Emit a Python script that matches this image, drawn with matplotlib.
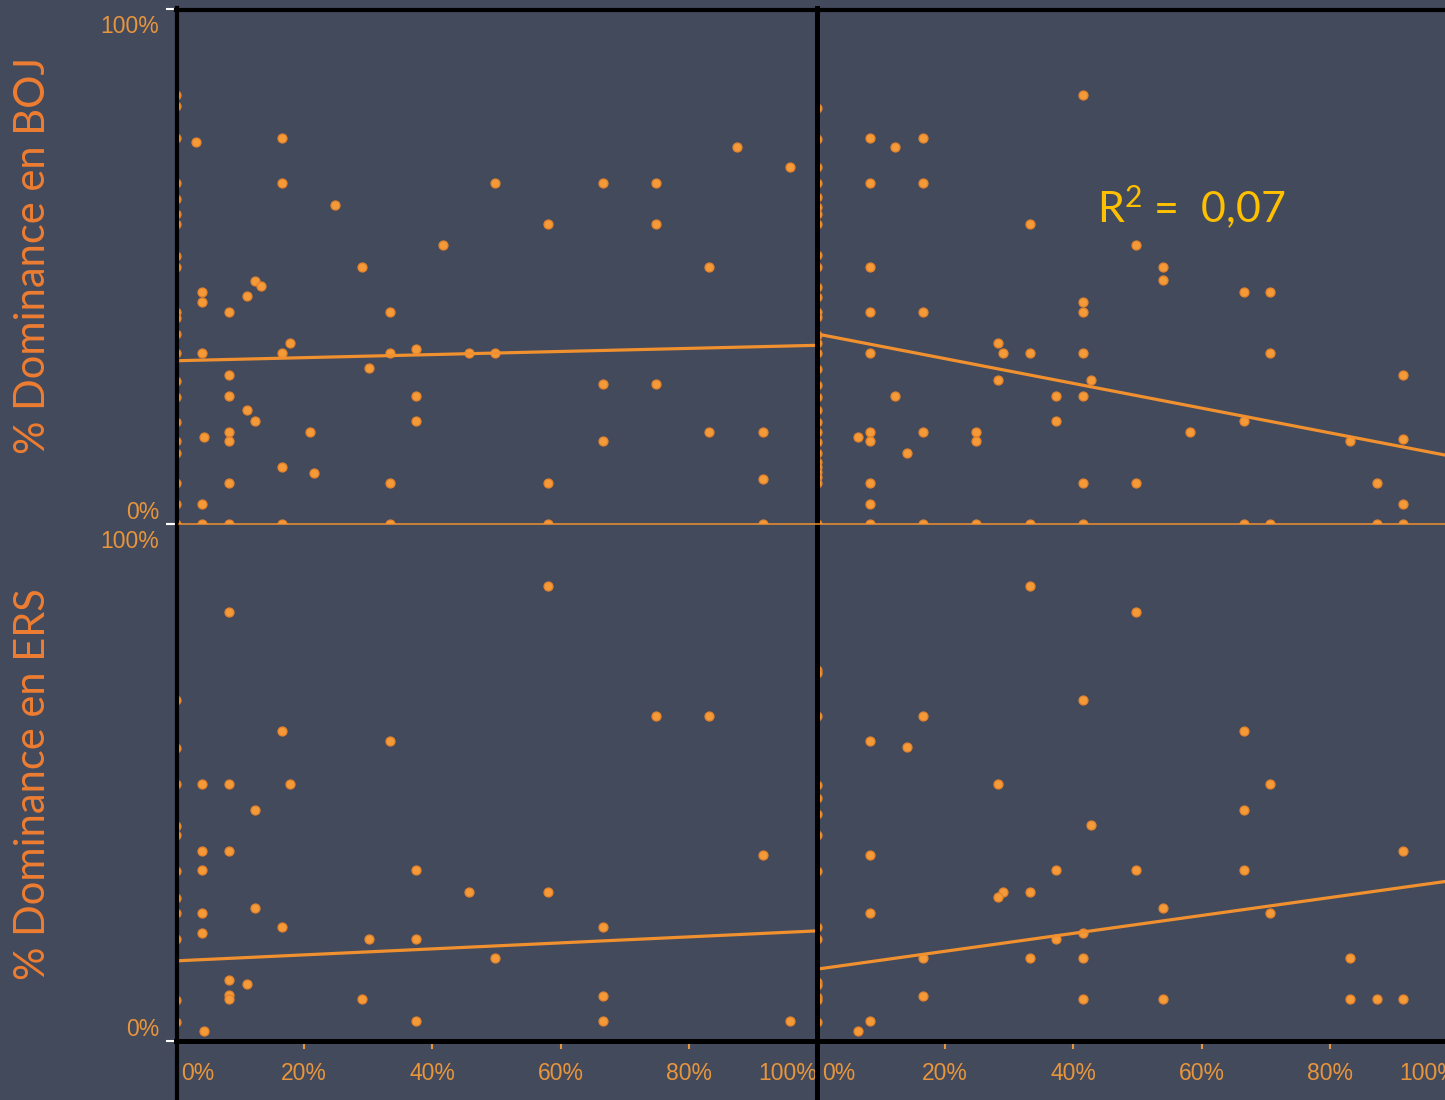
"""
Scatter grid: % dominance in BOJ / ERS against two other shares,
with a fitted line in each panel (dark slide style).
"""
import numpy as np
import matplotlib
matplotlib.use("Agg")
import matplotlib.pyplot as plt
from matplotlib.lines import Line2D
from matplotlib.transforms import ScaledTranslation

# ---- data (x, y as fractions) ----
# top-left panel: BOJ vs left variable
boj_left_pts = [
    (0.031, 0.742), (0.165, 0.750), (0.165, 0.662), (0.248, 0.619), (0.290, 0.499),
    (0.417, 0.542), (0.498, 0.662), (0.580, 0.583), (0.666, 0.662), (0.749, 0.662),
    (0.749, 0.583), (0.832, 0.499), (0.875, 0.732), (0.958, 0.693),
    (0.041, 0.450), (0.041, 0.431), (0.083, 0.412), (0.111, 0.443), (0.123, 0.472),
    (0.133, 0.462), (0.334, 0.412), (0.178, 0.351), (0.165, 0.332), (0.041, 0.332),
    (0.301, 0.303), (0.334, 0.332), (0.374, 0.340), (0.457, 0.332), (0.498, 0.332),
    (0.083, 0.289), (0.083, 0.249), (0.111, 0.221), (0.123, 0.200), (0.044, 0.169),
    (0.083, 0.179), (0.083, 0.161), (0.209, 0.179), (0.165, 0.111), (0.215, 0.099),
    (0.041, 0.039), (0.083, 0.080), (0.334, 0.080), (0.374, 0.249), (0.374, 0.200),
    (0.580, 0.080), (0.666, 0.272), (0.749, 0.272), (0.666, 0.161), (0.832, 0.179),
    (0.916, 0.179), (0.916, 0.087),
    (0.041, 0.0), (0.083, 0.0), (0.165, 0.0), (0.334, 0.0), (0.580, 0.0), (0.916, 0.0),
]
boj_left_zero_y = [0.833, 0.812, 0.750, 0.662, 0.631, 0.602, 0.583, 0.520, 0.499, 0.412,
                   0.400, 0.369, 0.332, 0.278, 0.247, 0.198, 0.161, 0.138, 0.080, 0.039, 0.0]

# top-right panel: BOJ vs right variable
boj_right_pts = [
    (0.083, 0.750), (0.122, 0.732), (0.165, 0.750), (0.083, 0.662), (0.165, 0.662),
    (0.415, 0.833), (0.332, 0.583), (0.498, 0.542), (0.540, 0.499), (0.540, 0.474),
    (0.083, 0.499), (0.415, 0.431), (0.415, 0.412), (0.083, 0.412), (0.165, 0.412),
    (0.666, 0.450), (0.707, 0.450), (0.282, 0.351), (0.290, 0.332), (0.332, 0.332),
    (0.415, 0.332), (0.707, 0.332), (0.083, 0.332), (0.282, 0.280), (0.427, 0.280),
    (0.373, 0.249), (0.415, 0.249), (0.122, 0.249), (0.373, 0.200), (0.666, 0.200),
    (0.582, 0.179), (0.083, 0.179), (0.083, 0.161), (0.064, 0.169), (0.165, 0.179),
    (0.248, 0.179), (0.248, 0.161), (0.140, 0.138), (0.832, 0.161), (0.914, 0.165),
    (0.914, 0.289), (0.083, 0.080), (0.083, 0.039), (0.415, 0.080), (0.498, 0.080),
    (0.874, 0.080), (0.914, 0.039),
    (0.083, 0.0), (0.165, 0.0), (0.248, 0.0), (0.332, 0.0), (0.415, 0.0), (0.666, 0.0),
    (0.707, 0.0), (0.874, 0.0), (0.914, 0.0),
]
boj_right_zero_y = [0.808, 0.748, 0.693, 0.662, 0.635, 0.616, 0.602, 0.583, 0.522, 0.499,
                    0.460, 0.441, 0.412, 0.402, 0.367, 0.351, 0.332, 0.301, 0.270, 0.247,
                    0.221, 0.198, 0.179, 0.159, 0.138, 0.120, 0.111, 0.101, 0.091, 0.080, 0.0]

# bottom-left panel: ERS vs left variable
ers_left_pts = [
    (0.083, 0.830), (0.580, 0.880), (0.165, 0.600), (0.334, 0.580), (0.749, 0.629),
    (0.832, 0.629), (0.041, 0.497), (0.083, 0.497), (0.178, 0.497), (0.123, 0.447),
    (0.041, 0.368), (0.083, 0.368), (0.041, 0.331), (0.374, 0.331), (0.916, 0.360),
    (0.457, 0.288), (0.580, 0.288), (0.123, 0.257), (0.041, 0.248), (0.041, 0.209),
    (0.165, 0.220), (0.301, 0.197), (0.374, 0.197), (0.666, 0.220), (0.498, 0.161),
    (0.083, 0.118), (0.111, 0.110), (0.083, 0.089), (0.083, 0.081), (0.290, 0.081),
    (0.666, 0.087), (0.374, 0.039), (0.666, 0.039), (0.958, 0.039), (0.044, 0.019),
]
ers_left_zero_y = [0.660, 0.567, 0.497, 0.416, 0.398, 0.329, 0.277, 0.248, 0.197, 0.079, 0.037]

# bottom-right panel: ERS vs right variable
ers_right_pts = [
    (0.332, 0.880), (0.498, 0.830), (0.415, 0.660), (0.165, 0.629), (0.083, 0.580),
    (0.140, 0.569), (0.666, 0.600), (0.282, 0.497), (0.707, 0.497), (0.666, 0.447),
    (0.427, 0.418), (0.083, 0.360), (0.914, 0.368), (0.373, 0.331), (0.498, 0.331),
    (0.666, 0.331), (0.290, 0.288), (0.332, 0.288), (0.282, 0.279), (0.540, 0.257),
    (0.083, 0.248), (0.707, 0.248), (0.373, 0.197), (0.415, 0.209), (0.165, 0.161),
    (0.332, 0.161), (0.415, 0.161), (0.832, 0.161), (0.165, 0.087), (0.415, 0.081),
    (0.540, 0.081), (0.832, 0.081), (0.874, 0.081), (0.914, 0.081), (0.083, 0.039),
    (0.064, 0.019),
]
ers_right_zero_y = [0.718, 0.712, 0.629, 0.495, 0.470, 0.439, 0.398, 0.329, 0.220, 0.197,
                    0.114, 0.108, 0.085, 0.079, 0.037]

# fitted lines (intercept, slope) per panel
fit_intercepts = [0.317, 0.369, 0.155, 0.139]
fit_slopes = [0.030, -0.240, 0.058, 0.173]

x_tick_values = [0, 0.2, 0.4, 0.6, 0.8, 1.0]
x_tick_labels = ["0%", "20%", "40%", "60%", "80%", "100%"]
y_tick_labels = ["0%", "100%"]
row_labels = ["% Dominance en BOJ", "% Dominance en ERS"]
r2_text = r"R$^{2}$ =  0,07"

# ---- style ----
BG = "#434a5c"
DOT = "#f59a38"
DOT_EDGE = "#e4822a"
LINE = "#f0902f"
TICK_TXT = "#e8953c"
LABEL_TXT = "#ed7d31"
W, H = 1445, 1100

plt.rcParams["mathtext.fontset"] = "custom"
plt.rcParams["mathtext.rm"] = "Lato"
plt.rcParams["mathtext.it"] = "Lato"


def box(x0, y0, x1, y1):
    # pixel box -> figure fraction rect
    return [x0 / W, 1 - y1 / H, (x1 - x0) / W, (y1 - y0) / H]


fig = plt.figure(figsize=(W / 100, H / 100), dpi=100, facecolor=BG)

panels = [
    (box(176, 9, 817, 524), boj_left_pts, boj_left_zero_y, "left", "top"),
    (box(817, 9, 1458, 524), boj_right_pts, boj_right_zero_y, "right", "top"),
    (box(176, 524, 817, 1041), ers_left_pts, ers_left_zero_y, "left", "bottom"),
    (box(817, 524, 1458, 1041), ers_right_pts, ers_right_zero_y, "right", "bottom"),
]

for i, (rect, pts, zero_y, side, row) in enumerate(panels):
    ax = fig.add_axes(rect)
    ax.set_facecolor(BG)
    for s in ax.spines.values():
        s.set_visible(False)
    ax.set_xlim(0, 1)
    ax.set_ylim(0, 1)

    xs, ys = np.array(pts).T
    ax.scatter(xs, ys, s=42, color=DOT, edgecolors=DOT_EDGE, linewidths=0.9, zorder=2)
    ax.scatter(np.zeros(len(zero_y)), zero_y, s=42, color=DOT, edgecolors=DOT_EDGE,
               linewidths=0.9, zorder=2)

    fx = np.array([0, 1.05])
    ax.plot(fx, fit_intercepts[i] + fit_slopes[i] * fx, color=LINE, lw=2.3, zorder=3)

    if side == "left":
        ax.set_yticks([0, 1], y_tick_labels, family="Liberation Sans")
        ax.tick_params(axis="y", color="white", labelcolor=TICK_TXT, length=7,
                       width=1.5, pad=5, labelsize=16.5)
        lbls = ax.get_yticklabels()
        lbls[0].set_va("bottom")
        lbls[1].set_va("top")
        # nudge the 100% label a bit down, as on the slide
        lbls[1].set_transform(lbls[1].get_transform()
                              + ScaledTranslation(0, -4 / 72, fig.dpi_scale_trans))
    else:
        ax.set_yticks([])

    if row == "bottom":
        ax.set_xticks(x_tick_values, x_tick_labels, family="Liberation Sans")
        ax.tick_params(axis="x", color=TICK_TXT, labelcolor=TICK_TXT, length=6,
                       width=1.5, pad=9, labelsize=16.5)
        lbls = ax.get_xticklabels()
        lbls[0].set_ha("left")
        lbls[0].set_transform(lbls[0].get_transform()
                              + ScaledTranslation(4 / 72, 0, fig.dpi_scale_trans))
        lbls[-1].set_ha("right")
    else:
        ax.set_xticks([])

# frame lines of the slide
fig.add_artist(Line2D([177 / W, 177 / W], [0, 1 - 8 / H], color="black", lw=3))
fig.add_artist(Line2D([817 / W, 817 / W], [0, 1 - 8 / H], color="black", lw=3.6))
fig.add_artist(Line2D([176 / W, 1], [1 - 10 / H, 1 - 10 / H], color="black", lw=3))
fig.add_artist(Line2D([176 / W, 1], [1 - 1041 / H, 1 - 1041 / H], color="black", lw=3.6))
fig.add_artist(Line2D([179 / W, 1], [1 - 524 / H, 1 - 524 / H], color=LINE, lw=1.1))

# row titles
fig.text(33 / W, 1 - 255 / H, row_labels[0], rotation=90, ha="center", va="center",
         fontsize=30, color=LABEL_TXT, family=["Lato", "DejaVu Sans"])
fig.text(33 / W, 1 - 784 / H, row_labels[1], rotation=90, ha="center", va="center",
         fontsize=30, color=LABEL_TXT, family=["Lato", "DejaVu Sans"])

fig.text(1097 / W, 1 - 207 / H, r2_text, ha="left", va="center", fontsize=31,
         color="#ffc000", family=["Lato", "DejaVu Sans"])

fig.savefig("out.png", dpi=100, facecolor=BG)
